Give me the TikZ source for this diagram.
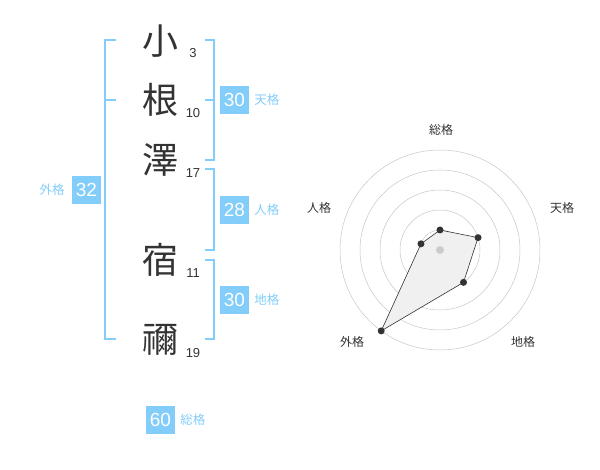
\documentclass[tikz,border=0pt]{standalone}
\usepackage{fontspec}
\setmainfont{Liberation Sans}
\newfontfamily\jp{Noto Sans CJK JP}
\usetikzlibrary{positioning}
\definecolor{namesky}{HTML}{82CDF9}
\definecolor{inkgray}{HTML}{333333}

\begin{document}
\begin{tikzpicture}[x=1pt, y=-1pt,
    kanji/.style={text=inkgray, inner sep=0pt, font=\jp\fontsize{36}{36}\selectfont},
    strokes/.style={text=inkgray, inner sep=0pt, font=\fontsize{13}{13}\selectfont},
    numbox/.style={fill=namesky, text=white, inner sep=0pt, minimum width=29pt, minimum height=28pt, font=\fontsize{19}{19}\selectfont},
    kaku/.style={text=namesky, inner sep=0pt, font=\jp\fontsize{12.5}{12.5}\selectfont},
    bracket/.style={namesky, line width=2pt},
    ring/.style={gray!45, line width=0.5pt},
    axlabel/.style={text=inkgray, inner sep=0pt, font=\jp\fontsize{12}{12}\selectfont},
    dot/.style={fill=inkgray, draw=none}]
                    \useasboundingbox (0,0) rectangle (600,470);
                    % Name
                    \node[kanji] (k1) at (160,41) {小};
                    \node[kanji] (k2) at (160,100) {根};
                    \node[kanji] (k3) at (160,160) {澤};
                    \node[kanji] (k4) at (160,260) {宿};
                    \node[kanji] (k5) at (160,340) {禰};
                    % Stroke counts
                    \node[strokes] (s1) at (193,53) {3};
                    \node[strokes] (s2) at (193,113) {10};
                    \node[strokes] (s3) at (193,173) {17};
                    \node[strokes] (s4) at (193,273) {11};
                    \node[strokes] (s5) at (193,353) {19};
                    % Brackets
                    \draw[bracket] (116,40) -- (105,40) -- (105,339) -- (116,339);
                    \draw[bracket] (105,100) -- (116,100);
                    \draw[bracket] (205,40) -- (214,40) -- (214,160) -- (205,160);
                    \draw[bracket] (214,100) -- (205,100);
                    \draw[bracket] (205,169) -- (214,169) -- (214,250) -- (205,250);
                    \draw[bracket] (205,260) -- (214,260) -- (214,339) -- (205,339);
                    % Scores
                    \node[numbox] (ten) at (234.5,100) {30};
                    \node[kaku, right=5pt of ten] (tenl) {天格};
                    \node[numbox] (jin) at (234.5,210) {28};
                    \node[kaku, right=5pt of jin] (jinl) {人格};
                    \node[numbox] (chi) at (234.5,300) {30};
                    \node[kaku, right=5pt of chi] (chil) {地格};
                    \node[numbox] (gai) at (86.5,190) {32};
                    \node[kaku, left=7pt of gai] (gail) {外格};
                    \node[numbox] (sou) at (160.5,420) {60};
                    \node[kaku, right=5pt of sou] (soul) {総格};
                    % Radar chart
                    \coordinate (ctr) at (440,250);
                    \foreach \r in {20,40,...,100}
                        \draw[ring] (ctr) circle[radius=\r pt];
                    \path (ctr) ++(-90:20) coordinate (p1)
                          (ctr) ++(-18:40) coordinate (p2)
                          (ctr) ++(54:40) coordinate (p3)
                          (ctr) ++(126:100) coordinate (p4)
                          (ctr) ++(198:20) coordinate (p5);
                    \draw[inkgray, line width=0.6pt, fill=gray!12] (p1) -- (p2) -- (p3) -- (p4) -- (p5) -- cycle;
                    \fill[gray!40] (ctr) circle[radius=4pt];
                    \foreach \p in {p1,p2,p3,p4,p5}
                        \fill[dot] (\p) circle[radius=3.5pt];
                    \node[axlabel] (ax1) at (441,130) {総格};
                    \node[axlabel] (ax2) at (562,208) {天格};
                    \node[axlabel] (ax3) at (523,342) {地格};
                    \node[axlabel] (ax4) at (352,342) {外格};
                    \node[axlabel] (ax5) at (319,208) {人格};
                \end{tikzpicture}
\end{document}
